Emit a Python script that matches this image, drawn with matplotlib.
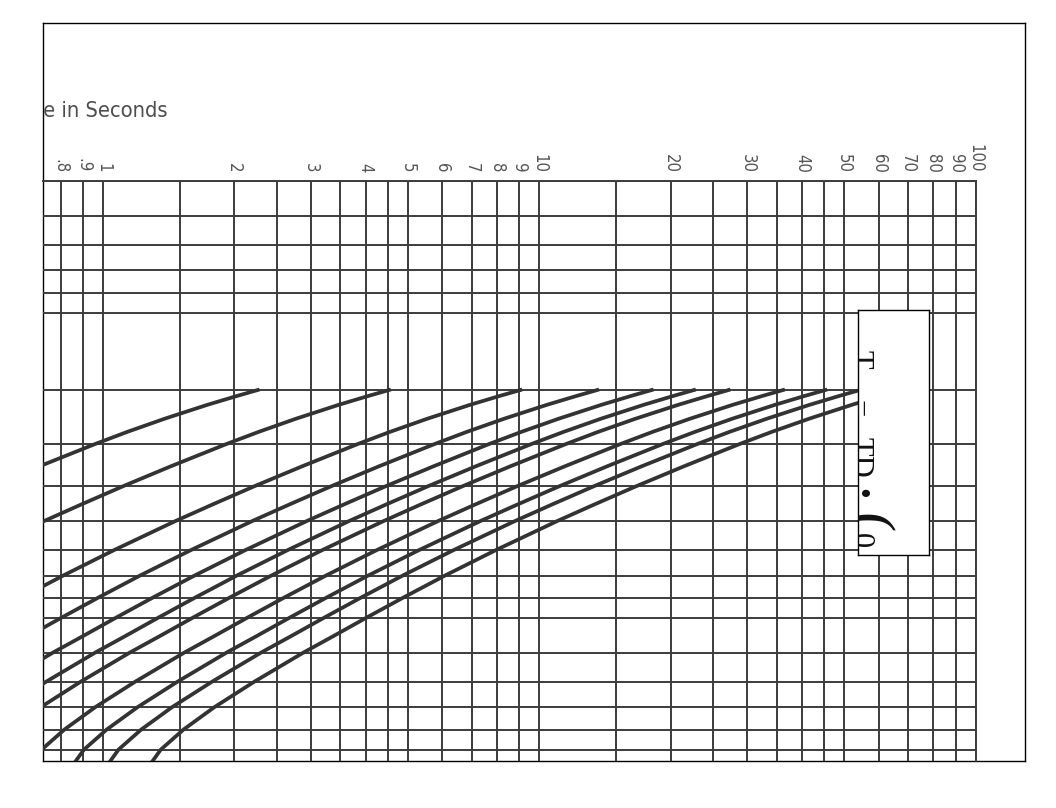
import numpy as np
import matplotlib
matplotlib.use('Agg')
import matplotlib.pyplot as plt
from matplotlib.ticker import FixedLocator, NullFormatter, NullLocator

# time axis (seconds), labelled and unlabelled grid lines
time_major = [0.8, 0.9, 1, 2, 3, 4, 5, 6, 7, 8, 9, 10, 20, 30, 40, 50, 60, 70, 80, 90, 100]
time_labels = ['.8', '.9', '1', '2', '3', '4', '5', '6', '7', '8', '9', '10',
               '20', '30', '40', '50', '60', '70', '80', '90', '100']
time_minor = [1.5, 2.5, 3.5, 4.5, 15, 25, 35, 45]

# multiples (vertical grid)
mult_grid = [1, 1.2, 1.4, 1.6, 1.8, 2, 3, 4, 5, 6, 7, 8, 9, 10, 12, 14, 16, 18, 20]

# time dial settings and the TD = 1 curve
td_values = [0.5, 1, 2, 3, 4, 5, 6, 8, 10, 12, 15]
curve_mult = [3, 3.1, 3.25, 3.5, 3.75, 4, 4.5, 5, 5.5, 6, 7, 8, 9, 10, 11, 12,
              14, 16, 18, 20, 22]
curve_time_td1 = [4.571, 4.074, 3.478, 2.768, 2.275, 1.917, 1.428, 1.109, 0.891,
                  0.733, 0.529, 0.405, 0.324, 0.267, 0.225, 0.192, 0.148, 0.120,
                  0.102, 0.0905, 0.0845]

W, H = 1056, 808
grid_col = '#3c3c3c'


def fig_rect(x0, y0, x1, y1):
    return [x0 / W, 1 - y1 / H, (x1 - x0) / W, (y1 - y0) / H]


fig = plt.figure(figsize=(W / 100, H / 100), dpi=100)

# outer frame, works in pixel coordinates
frame = fig.add_axes(fig_rect(43, 23, 1025, 761))
frame.set_xlim(43, 1025)
frame.set_ylim(761, 23)
frame.set_xticks([])
frame.set_yticks([])
for s in frame.spines.values():
    s.set_linewidth(1.0)
    s.set_color('black')
frame.text(168, 117, 'Time in Seconds', ha='right', va='baseline', fontsize=15.7,
           color='#4d4d4d', family='DejaVu Sans', fontstretch='condensed',
           clip_on=True)

# main chart
ax = fig.add_axes(fig_rect(43, 181, 975.5, 761))
ax.set_facecolor('none')
ax.set_xscale('log')
ax.set_yscale('log')
ax.set_xlim(0.729, 100)
ax.set_ylim(21.24, 1.0)

ax.xaxis.set_major_locator(FixedLocator(time_major))
ax.xaxis.set_minor_locator(FixedLocator(time_minor))
ax.set_xticklabels(time_labels)
ax.xaxis.set_minor_formatter(NullFormatter())
ax.xaxis.tick_top()
ax.tick_params(axis='x', which='both', length=0, pad=6, labelsize=12,
               labelcolor='#555555', labelrotation=270)
for lab in ax.get_xticklabels():
    lab.set_family('DejaVu Sans')
    lab.set_stretch('condensed')

ax.yaxis.set_major_locator(FixedLocator(mult_grid))
ax.yaxis.set_major_formatter(NullFormatter())
ax.yaxis.set_minor_locator(NullLocator())
ax.tick_params(axis='y', which='both', length=0)

ax.set_axisbelow(True)
ax.grid(which='both', color=grid_col, lw=1.4)
ax.spines['left'].set_visible(False)
ax.spines['bottom'].set_visible(False)
for side in ['top', 'right']:
    ax.spines[side].set_color(grid_col)
    ax.spines[side].set_linewidth(1.4)

for td in td_values:
    ax.plot(td * np.array(curve_time_td1), curve_mult, color='#333333', lw=2.7,
            solid_capstyle='butt', solid_joinstyle='round', zorder=3)

# formula box (text cut by the box edge)
bx = fig.add_axes(fig_rect(858, 310, 929, 555))
bx.set_xlim(858, 929)
bx.set_ylim(555, 310)
bx.set_xticks([])
bx.set_yticks([])
bx.set_facecolor('white')
for s in bx.spines.values():
    s.set_linewidth(1.0)
    s.set_color('black')

pieces = [('T', 852, 350, 22), ('=', 848, 400, 22), ('TD', 852, 437, 22),
          ('\u2022', 852, 488, 22), ('(', 849, 513, 44), ('0', 852, 533, 22)]
for txt, px, py, fs in pieces:
    bx.text(px, py, txt, rotation=-90, rotation_mode='anchor', ha='left',
            va='baseline', fontsize=fs, family='Liberation Serif', color='#111111',
            clip_on=True)

fig.savefig('out.png', dpi=100)
